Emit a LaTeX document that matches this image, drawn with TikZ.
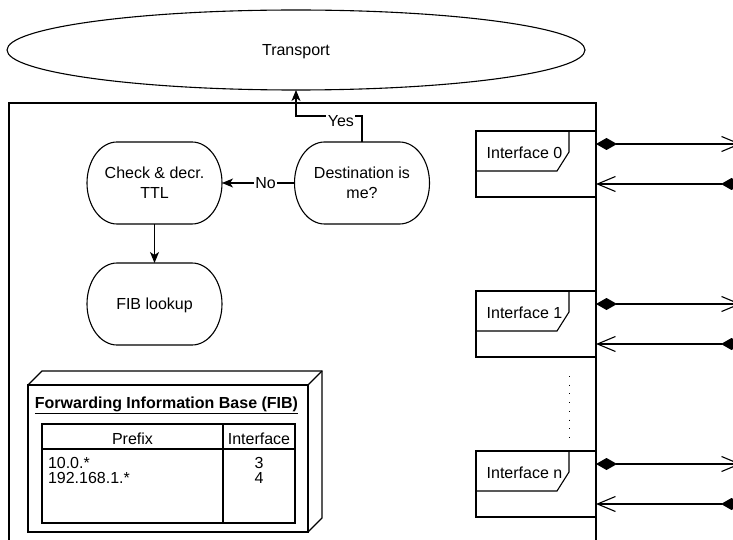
\documentclass[tikz,border=0pt]{standalone}
\usepackage{fontspec}
\setmainfont{Liberation Sans}
\usetikzlibrary{arrows.meta,shapes.geometric}

\begin{document}
\begin{tikzpicture}[x=1pt,y=-1pt,
  every node/.style={font=\fontsize{16pt}{20pt}\selectfont, inner sep=0pt, outer sep=0pt},
  wire/.style={line width=1.1pt},
  proc/.style={rectangle, minimum width=135pt, minimum height=82pt, align=center, text depth=0pt},
  flow/.style={line width=1.1pt, -{Stealth[length=11pt,width=9pt,inset=3pt]}},
  ifbox/.style={draw, line width=1.1pt, rectangle, minimum width=120pt, minimum height=66pt},
  egress/.style={line width=1.1pt, {Diamond[length=21pt,width=12pt]}-{Straight Barb[length=18pt,width=15pt]}},
  ingress/.style={line width=1.1pt, {Straight Barb[length=18pt,width=15pt]}-{Diamond[length=21pt,width=12pt]}},
  lbl/.style={fill=white, inner sep=1.5pt}
]
\useasboundingbox (0,0) rectangle (733,540);
\clip (0,0) rectangle (733,540);

% transport layer
\node[draw, wire, ellipse, minimum width=578pt, minimum height=80pt,
      text height=11.5pt, text depth=0pt] (transport) at (296,50) {Transport};

% router frame
\draw[wire] (9,560) -- (9,103) -- (596,103) -- (596,560);

% forwarding logic
\node[proc] (dest) at (362,183) {Destination is\\me?};
\node[proc] (check) at (154.5,183) {Check \& decr.\\TTL};
\node[proc] (lookup) at (154.5,304) {FIB lookup};

% outlines with elliptical corners
\foreach \n in {dest,check,lookup} {
  \draw[wire] ([xshift=30pt]\n.north west) -- ([xshift=-30pt]\n.north east)
    .. controls +(16.57,0) and +(0,-22.6) .. (\n.east)
    .. controls +(0,22.6) and +(16.57,0) .. ([xshift=-30pt]\n.south east)
    -- ([xshift=30pt]\n.south west)
    .. controls +(-16.57,0) and +(0,22.6) .. (\n.west)
    .. controls +(0,-22.6) and +(-16.57,0) .. ([xshift=30pt]\n.north west)
    -- cycle;
}

\draw[flow] (dest.north) -- ++(0,-26) -| node[lbl, pos=0.16, yshift=-5pt] {Yes} (transport.south);
\draw[flow] (dest.west) -- node[lbl, pos=0.4] {No} (check.east);
\draw[flow] (check.south) -- (lookup.north);

% forwarding information base (3D box)
\node[draw, wire, rectangle, minimum width=280pt, minimum height=147pt] (fibbox) at (168,458.5) {};
\draw[wire] (fibbox.north west) -- ++(14,-14) -- ++(280,0) -- ++(0,147) -- (fibbox.south east);
\draw[wire] (fibbox.north east) -- ++(14,-14);
\node[font=\fontsize{16pt}{20pt}\selectfont\bfseries, anchor=base] (fibtitle) at (166.5,408)
  {\underline{Forwarding Information Base (FIB)}};

\node[draw, wire, rectangle, minimum width=253pt, minimum height=99pt] (fibtab) at (168.5,473.5) {};
\draw[wire] (42,449) -- (295,449);
\draw[wire] (223,424) -- (223,523);
\node[anchor=base] (hprefix) at (132.5,444) {Prefix};
\node[anchor=base] (hiface) at (259,444) {Interface};
\node[anchor=base west] (r1p) at (48,468) {10.0.*};
\node[anchor=base west] (r2p) at (48,483) {192.168.1.*};
\node[anchor=base] (r1i) at (259,468) {3};
\node[anchor=base] (r2i) at (259,483) {4};

% interfaces
\foreach \k/\t in {0/131, 1/291, n/451} {
  \node[ifbox] (if\k) at (536,\t+33) {};
  \draw[wire] (if\k.north west) ++(0,40) -- ++(81,0) -- ++(12,-19) -- ++(0,-21);
  \node (iflabel\k) at ([xshift=48.5pt,yshift=-22pt]if\k.north west) {Interface \k};
  \coordinate (outA\k) at ([yshift=-13pt]if\k.north east);
  \coordinate (outB\k) at (741,\t+13);
  \coordinate (inA\k) at ([yshift=-53pt]if\k.north east);
  \coordinate (inB\k) at (742,\t+53);
  \draw[egress] (outA\k) -- (outB\k);
  \draw[ingress] (inA\k) -- (inB\k);
}

% more interfaces
\draw[line width=1pt, dash pattern=on 1pt off 7.7pt] (569,376) -- (569,438);
\end{tikzpicture}
\end{document}
